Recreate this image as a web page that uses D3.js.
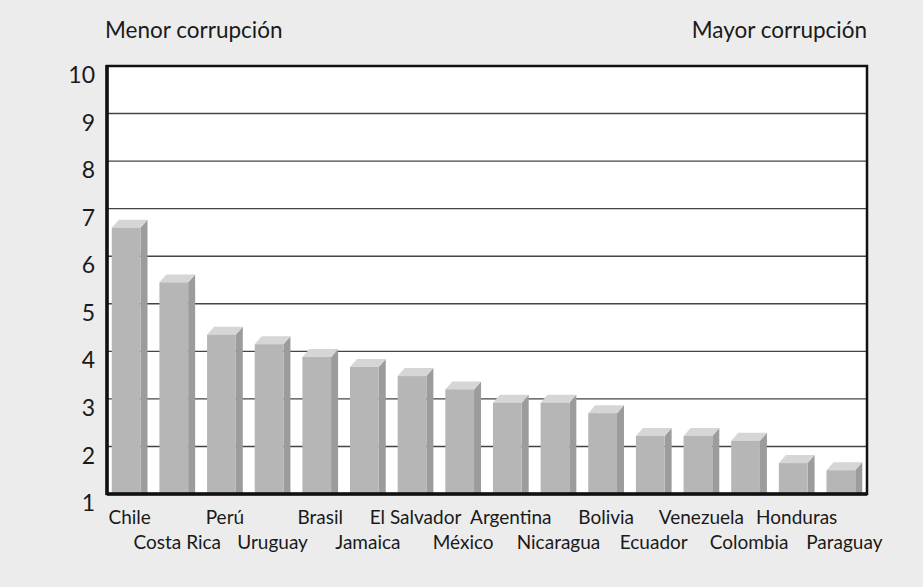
<!DOCTYPE html>
<html>
<head>
<meta charset="utf-8">
<script src="https://cdn.jsdelivr.net/npm/d3@7"></script>
<style>
  html, body { margin: 0; padding: 0; background: #ececec; }
  svg { display: block; }
  text { font-family: Lato, "Open Sans", sans-serif; fill: #1a1a1a; }
</style>
</head>
<body>
<svg id="chart" width="923" height="587"></svg>
<script>
const countries = ["Chile","Costa Rica","Perú","Uruguay","Brasil","Jamaica","El Salvador","México","Argentina","Nicaragua","Bolivia","Ecuador","Venezuela","Colombia","Honduras","Paraguay"];
const values = [6.6, 5.45, 4.35, 4.15, 3.88, 3.67, 3.48, 3.2, 2.92, 2.92, 2.7, 2.22, 2.22, 2.12, 1.65, 1.5];
const yTicks = [1,2,3,4,5,6,7,8,9,10];
const leftTitle = "Menor corrupción";
const rightTitle = "Mayor corrupción";

const svg = d3.select("#chart");
const L = 107, R = 867, T = 66, B = 494;
const depthX = 7, depthY = 8;

const x = d3.scaleBand().domain(countries).range([L, R]).paddingInner(0.25).paddingOuter(0.1);
const y = d3.scaleLinear().domain([1, 10]).range([B, T]);

// plot background
svg.append("rect").attr("x", L).attr("y", T).attr("width", R - L).attr("height", B - T).attr("fill", "#ffffff");

// gridlines
svg.append("g").selectAll("line").data(yTicks.filter(d => d > 1 && d < 10)).join("line")
  .attr("x1", L).attr("x2", R)
  .attr("y1", d => y(d)).attr("y2", d => y(d))
  .attr("stroke", "#444").attr("stroke-width", 1.4);

// bars
const fw = x.bandwidth() - depthX;
const g = svg.append("g");
countries.forEach((c, i) => {
  const x0 = x(c), yt = y(values[i]);
  g.append("path")
    .attr("d", `M${x0+fw},${yt} L${x0+fw+depthX},${yt-depthY} L${x0+fw+depthX},${B} L${x0+fw},${B} Z`)
    .attr("fill", "#9c9c9c");
  g.append("path")
    .attr("d", `M${x0},${yt} L${x0+depthX},${yt-depthY} L${x0+fw+depthX},${yt-depthY} L${x0+fw},${yt} Z`)
    .attr("fill", "#d6d6d6");
  g.append("rect").attr("x", x0).attr("y", yt).attr("width", fw).attr("height", B - yt)
    .attr("fill", "#b6b6b6");
});

// frame
svg.append("rect").attr("x", L).attr("y", T).attr("width", R - L).attr("height", B - T)
  .attr("fill", "none").attr("stroke", "#111").attr("stroke-width", 2.5);
svg.append("line").attr("x1", L).attr("x2", L).attr("y1", T - 1).attr("y2", B + 1)
  .attr("stroke", "#111").attr("stroke-width", 3.5);
svg.append("line").attr("x1", L).attr("x2", R).attr("y1", B).attr("y2", B)
  .attr("stroke", "#111").attr("stroke-width", 3.5);

// y tick labels
const yAxis = d3.axisLeft(y).tickValues(yTicks).tickSize(0).tickPadding(12).tickFormat(d3.format("d"));
const ya = svg.append("g").attr("transform", `translate(${L},0)`).call(yAxis);
ya.select(".domain").remove();
ya.selectAll("text").attr("font-size", 23).attr("dy", "0.72em").attr("font-family", "Lato, 'Open Sans', sans-serif").attr("fill", "#1a1a1a");

// category labels (alternating rows)
svg.append("g").selectAll("text").data(countries).join("text")
  .attr("x", d => x(d) + x.bandwidth() / 2)
  .attr("y", (d, i) => i % 2 === 0 ? 524 : 549)
  .attr("text-anchor", "middle")
  .attr("font-size", 19)
  .text(d => d);

// titles
svg.append("text").attr("x", 105).attr("y", 38).attr("font-size", 22.5).text(leftTitle);
svg.append("text").attr("x", 867).attr("y", 38).attr("font-size", 22.5).attr("text-anchor", "end").text(rightTitle);
</script>
</body>
</html>
